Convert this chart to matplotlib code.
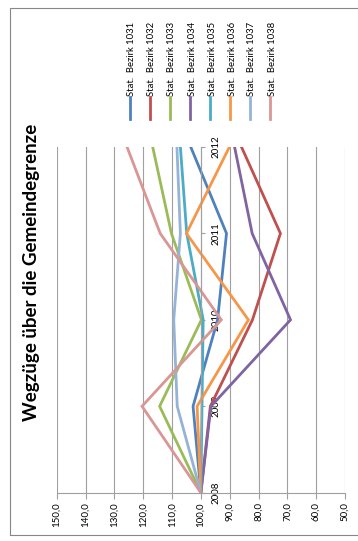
import matplotlib.pyplot as plt
from matplotlib.lines import Line2D
from matplotlib.patches import Rectangle

plt.rcParams['font.family'] = ['Lato', 'DejaVu Sans']

# data (index 2008 = 100)
years = [2008, 2009, 2010, 2011, 2012]
series_names = ['Stat.  Bezirk 1031', 'Stat.  Bezirk 1032', 'Stat.  Bezirk 1033',
                'Stat.  Bezirk 1034', 'Stat.  Bezirk 1035', 'Stat.  Bezirk 1036',
                'Stat.  Bezirk 1037', 'Stat.  Bezirk 1038']
b1031 = [100, 102.7, 94.2, 91.1, 103.5]
b1032 = [100, 96.7, 82.1, 72.4, 85.9]
b1033 = [100, 114.3, 99.8, 110.2, 116.7]
b1034 = [100, 96.5, 68.9, 82.2, 88.3]
b1035 = [100, 99.6, 99.2, 104.9, 107.1]
b1036 = [100, 101.3, 83.5, 105.0, 90.1]
b1037 = [100, 108.2, 109.4, 107.1, 108.3]
b1038 = [100, 120.4, 92.9, 114.1, 125.6]
value_ticks = [150, 140, 130, 120, 110, 100, 90, 80, 70, 60, 50]

colors = ['#4F81BD', '#C0504D', '#9BBB59', '#8064A2',
          '#4BACC6', '#F79646', '#95B3D7', '#D99694']
all_series = [b1031, b1032, b1033, b1034, b1035, b1036, b1037, b1038]
grey = '#A0A0A0'

W, H = 358, 541
fig = plt.figure(figsize=(W / 100, H / 100), dpi=100)

# chart frame
fig.add_artist(Rectangle((10 / W, 1 - 535 / H), 360 / W, 527 / H,
                         transform=fig.transFigure, fill=False,
                         edgecolor='#868686', linewidth=0.8))

# the whole Excel chart is turned by 90 degrees: values run right-to-left, years upward
ax = fig.add_axes([56.7 / W, 1 - 492.7 / H, (345 - 56.7) / W, (492.7 - 147) / H])
for s, c in zip(all_series, colors):
    ax.plot(s, years, color=c, linewidth=2.0, solid_joinstyle='miter')

ax.set_xlim(150, 50)
ax.set_ylim(2008, 2012)
ax.set_xticks(value_ticks)
ax.set_xticklabels([f'{v:.1f}'.replace('.', ',') for v in value_ticks],
                   rotation=90, fontsize=7, color='#000000')
ax.grid(axis='x', color=grey, linewidth=0.8)
ax.set_axisbelow(True)

ax.spines['top'].set_visible(False)
ax.spines['left'].set_visible(False)
ax.spines['right'].set_position(('data', 100))
ax.spines['right'].set_color(grey)
ax.spines['right'].set_linewidth(0.8)
ax.spines['bottom'].set_color(grey)
ax.spines['bottom'].set_linewidth(0.8)

ax.yaxis.tick_right()
ax.set_yticks(years)
ax.set_yticklabels([str(y) for y in years], rotation=90, va='center', fontsize=7)
ax.tick_params(axis='y', length=3, width=0.8, color=grey, pad=5)
ax.tick_params(axis='x', length=4, width=0.8, color=grey, pad=3)

# title
fig.text(32 / W, 1 - 272 / H, 'Wegzüge über die Gemeindegrenze', rotation=90,
         ha='center', va='center', fontsize=13.5, fontweight='bold')

# legend, laid out by hand because it is rotated too
for i, (name, c) in enumerate(zip(series_names, colors)):
    x = (130 + 20 * i) / W
    fig.add_artist(Line2D([x, x], [1 - 119 / H, 1 - 97 / H], color=c,
                          linewidth=2.0, transform=fig.transFigure))
    fig.text(x + 2 / W, 1 - 96 / H, name, rotation=90, ha='center', va='bottom',
             fontsize=6.8)

fig.savefig('out.png', dpi=100)
